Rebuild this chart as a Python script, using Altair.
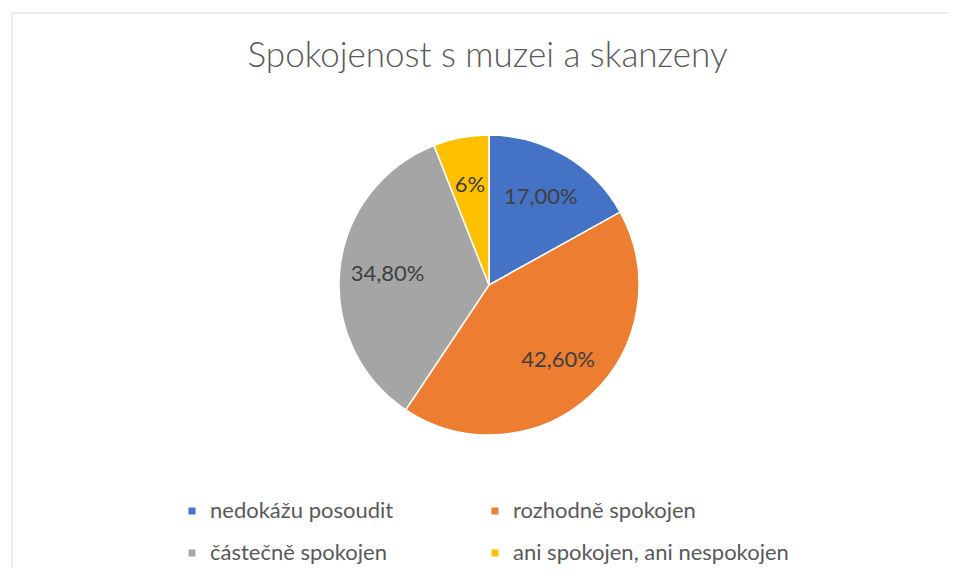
import altair as alt
import pandas as pd

categories = ["nedokážu posoudit", "rozhodně spokojen", "částečně spokojen", "ani spokojen, ani nespokojen"]
values = [17.0, 42.6, 34.8, 6.0]
labels = ["17,00%", "42,60%", "34,80%", "6%"]
colors = ["#4472C4", "#ED7D31", "#A5A5A5", "#FFC000"]

# legend shows entries row by row: reorder the domain for the column-major legend grid
legend_order = [categories[0], categories[2], categories[1], categories[3]]
legend_colors = [colors[0], colors[2], colors[1], colors[3]]

df = pd.DataFrame({
    "kategorie": categories,
    "hodnota": values,
    "popisek": labels,
    "poradi": list(range(len(categories))),
})

W, H = 937, 555
CX, CY = 489 - 12, 285 - 13
FONT = "Lato"

base = alt.Chart(df).encode(
    theta=alt.Theta("hodnota:Q", stack=True),
    order=alt.Order("poradi:O"),
)

pie = base.mark_arc(outerRadius=150, stroke="white", strokeWidth=1.5).encode(
    x=alt.value(CX),
    y=alt.value(CY),
    color=alt.Color(
        "kategorie:N",
        scale=alt.Scale(domain=legend_order, range=legend_colors),
        legend=alt.Legend(
            title=None,
            orient="none",
            legendX=169,
            legendY=487,
            columns=2,
            columnPadding=90,
            rowPadding=20,
            symbolType="square",
            symbolSize=49,
            symbolStrokeWidth=0,
            labelFont=FONT,
            labelFontSize=22,
            labelColor="#595959",
            labelOffset=7,
            labelLimit=400,
        ),
    ),
)

text = base.mark_text(radius=102, font=FONT, fontSize=22, color="#404040").encode(
    x=alt.value(CX),
    y=alt.value(CY),
    text="popisek:N",
)

frame = pd.DataFrame({"a": [0]})
top_line = alt.Chart(frame).mark_rule(color="#D9D9D9", strokeWidth=1).encode(
    x=alt.value(0), x2=alt.value(W), y=alt.value(0)
)
left_line = alt.Chart(frame).mark_rule(color="#D9D9D9", strokeWidth=1).encode(
    x=alt.value(0), y=alt.value(0), y2=alt.value(H)
)

chart = alt.layer(top_line, left_line, pie, text).properties(
    width=W,
    height=H,
    autosize="none",
    padding={"left": 4, "top": 5, "right": 0, "bottom": 0},
    title=alt.TitleParams(
        "Spokojenost s muzei a skanzeny",
        font=FONT,
        fontSize=35,
        fontWeight=300,
        color="#595959",
        anchor="middle",
        baseline="alphabetic",
        offset=0,
        dx=7,
        dy=89,
    ),
).configure_view(stroke=None)

chart.save("out.html", embed_options={"renderer": "svg", "actions": False})
